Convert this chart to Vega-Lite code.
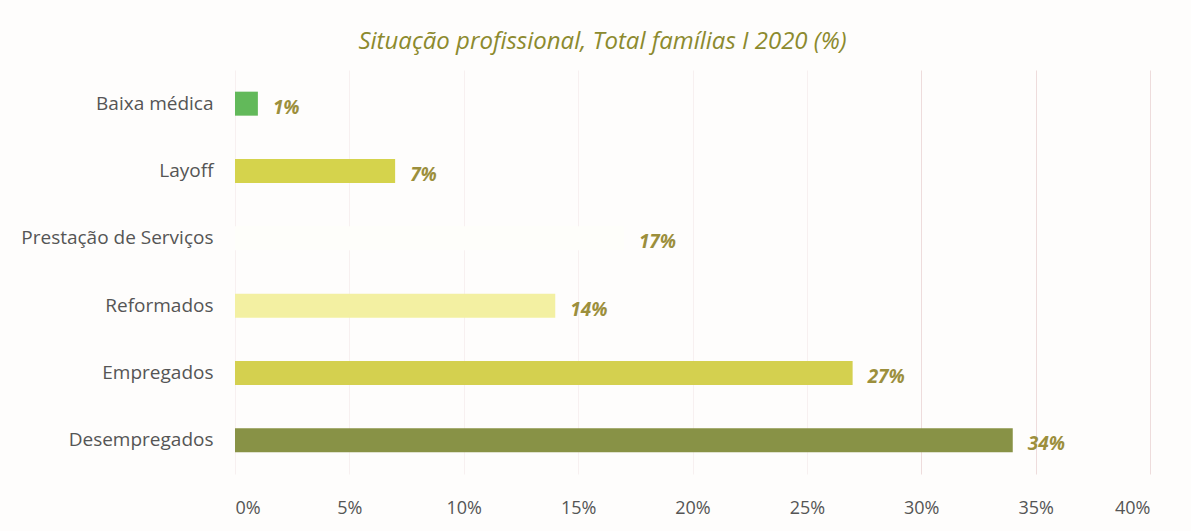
{
  "$schema": "https://vega.github.io/schema/vega-lite/v6.json",
  "autosize": {"type": "none"},
  "width": 915,
  "height": 404,
  "padding": {"left": 235, "top": 70, "right": 41, "bottom": 57},
  "background": "#fefdfc",
  "title": {
    "text": "Situação profissional, Total famílias I 2020 (%)",
    "font": "Open Sans",
    "fontStyle": "italic",
    "fontWeight": "normal",
    "fontSize": 24,
    "color": "#8c8a2e",
    "anchor": "middle",
    "dx": -90,
    "offset": 16
  },
  "data": {
    "values": [
      {"categoria": "Baixa médica", "valor": 1, "cor": "#62b95a"},
      {"categoria": "Layoff", "valor": 7, "cor": "#d5d34c"},
      {"categoria": "Prestação de Serviços", "valor": 17, "cor": "#fefefa"},
      {"categoria": "Reformados", "valor": 14, "cor": "#f3f0a2"},
      {"categoria": "Empregados", "valor": 27, "cor": "#d4d04f"},
      {"categoria": "Desempregados", "valor": 34, "cor": "#889246"}
    ]
  },
  "transform": [{"calculate": "datum.valor + '%'", "as": "rotulo"}],
  "encoding": {
    "y": {
      "field": "categoria",
      "type": "nominal",
      "sort": null,
      "title": null,
      "axis": {
        "domain": false,
        "ticks": false,
        "labelFont": "Open Sans",
        "labelFontSize": 19,
        "labelColor": "#555555",
        "labelPadding": 22,
        "labelLimit": 300
      }
    },
    "x": {
      "field": "valor",
      "type": "quantitative",
      "title": null,
      "scale": {"domain": [0, 40]},
      "axis": {
        "values": [0, 5, 10, 15, 20, 25, 30, 35, 40],
        "labelExpr": "datum.value + '%'",
        "domain": false,
        "ticks": false,
        "labelFont": "Open Sans",
        "labelFontSize": 18,
        "labelColor": "#555555",
        "labelPadding": 25,
        "grid": true,
        "gridColor": {
          "condition": {"test": "datum.value >= 30", "value": "#eedcdc"},
          "value": "#f7f0f0"
        },
        "gridWidth": 1
      }
    }
  },
  "layer": [
    {
      "mark": {"type": "bar", "size": 24},
      "encoding": {
        "color": {"field": "cor", "type": "nominal", "scale": null}
      }
    },
    {
      "mark": {
        "type": "text",
        "align": "left",
        "dx": 15,
        "dy": 4,
        "font": "Open Sans",
        "fontSize": 19,
        "fontStyle": "italic",
        "fontWeight": "bold",
        "color": "#9c8f3c"
      },
      "encoding": {
        "text": {"field": "rotulo", "type": "nominal"},
        "x": {"field": "valor", "type": "quantitative"}
      }
    }
  ],
  "config": {"view": {"stroke": null}}
}
